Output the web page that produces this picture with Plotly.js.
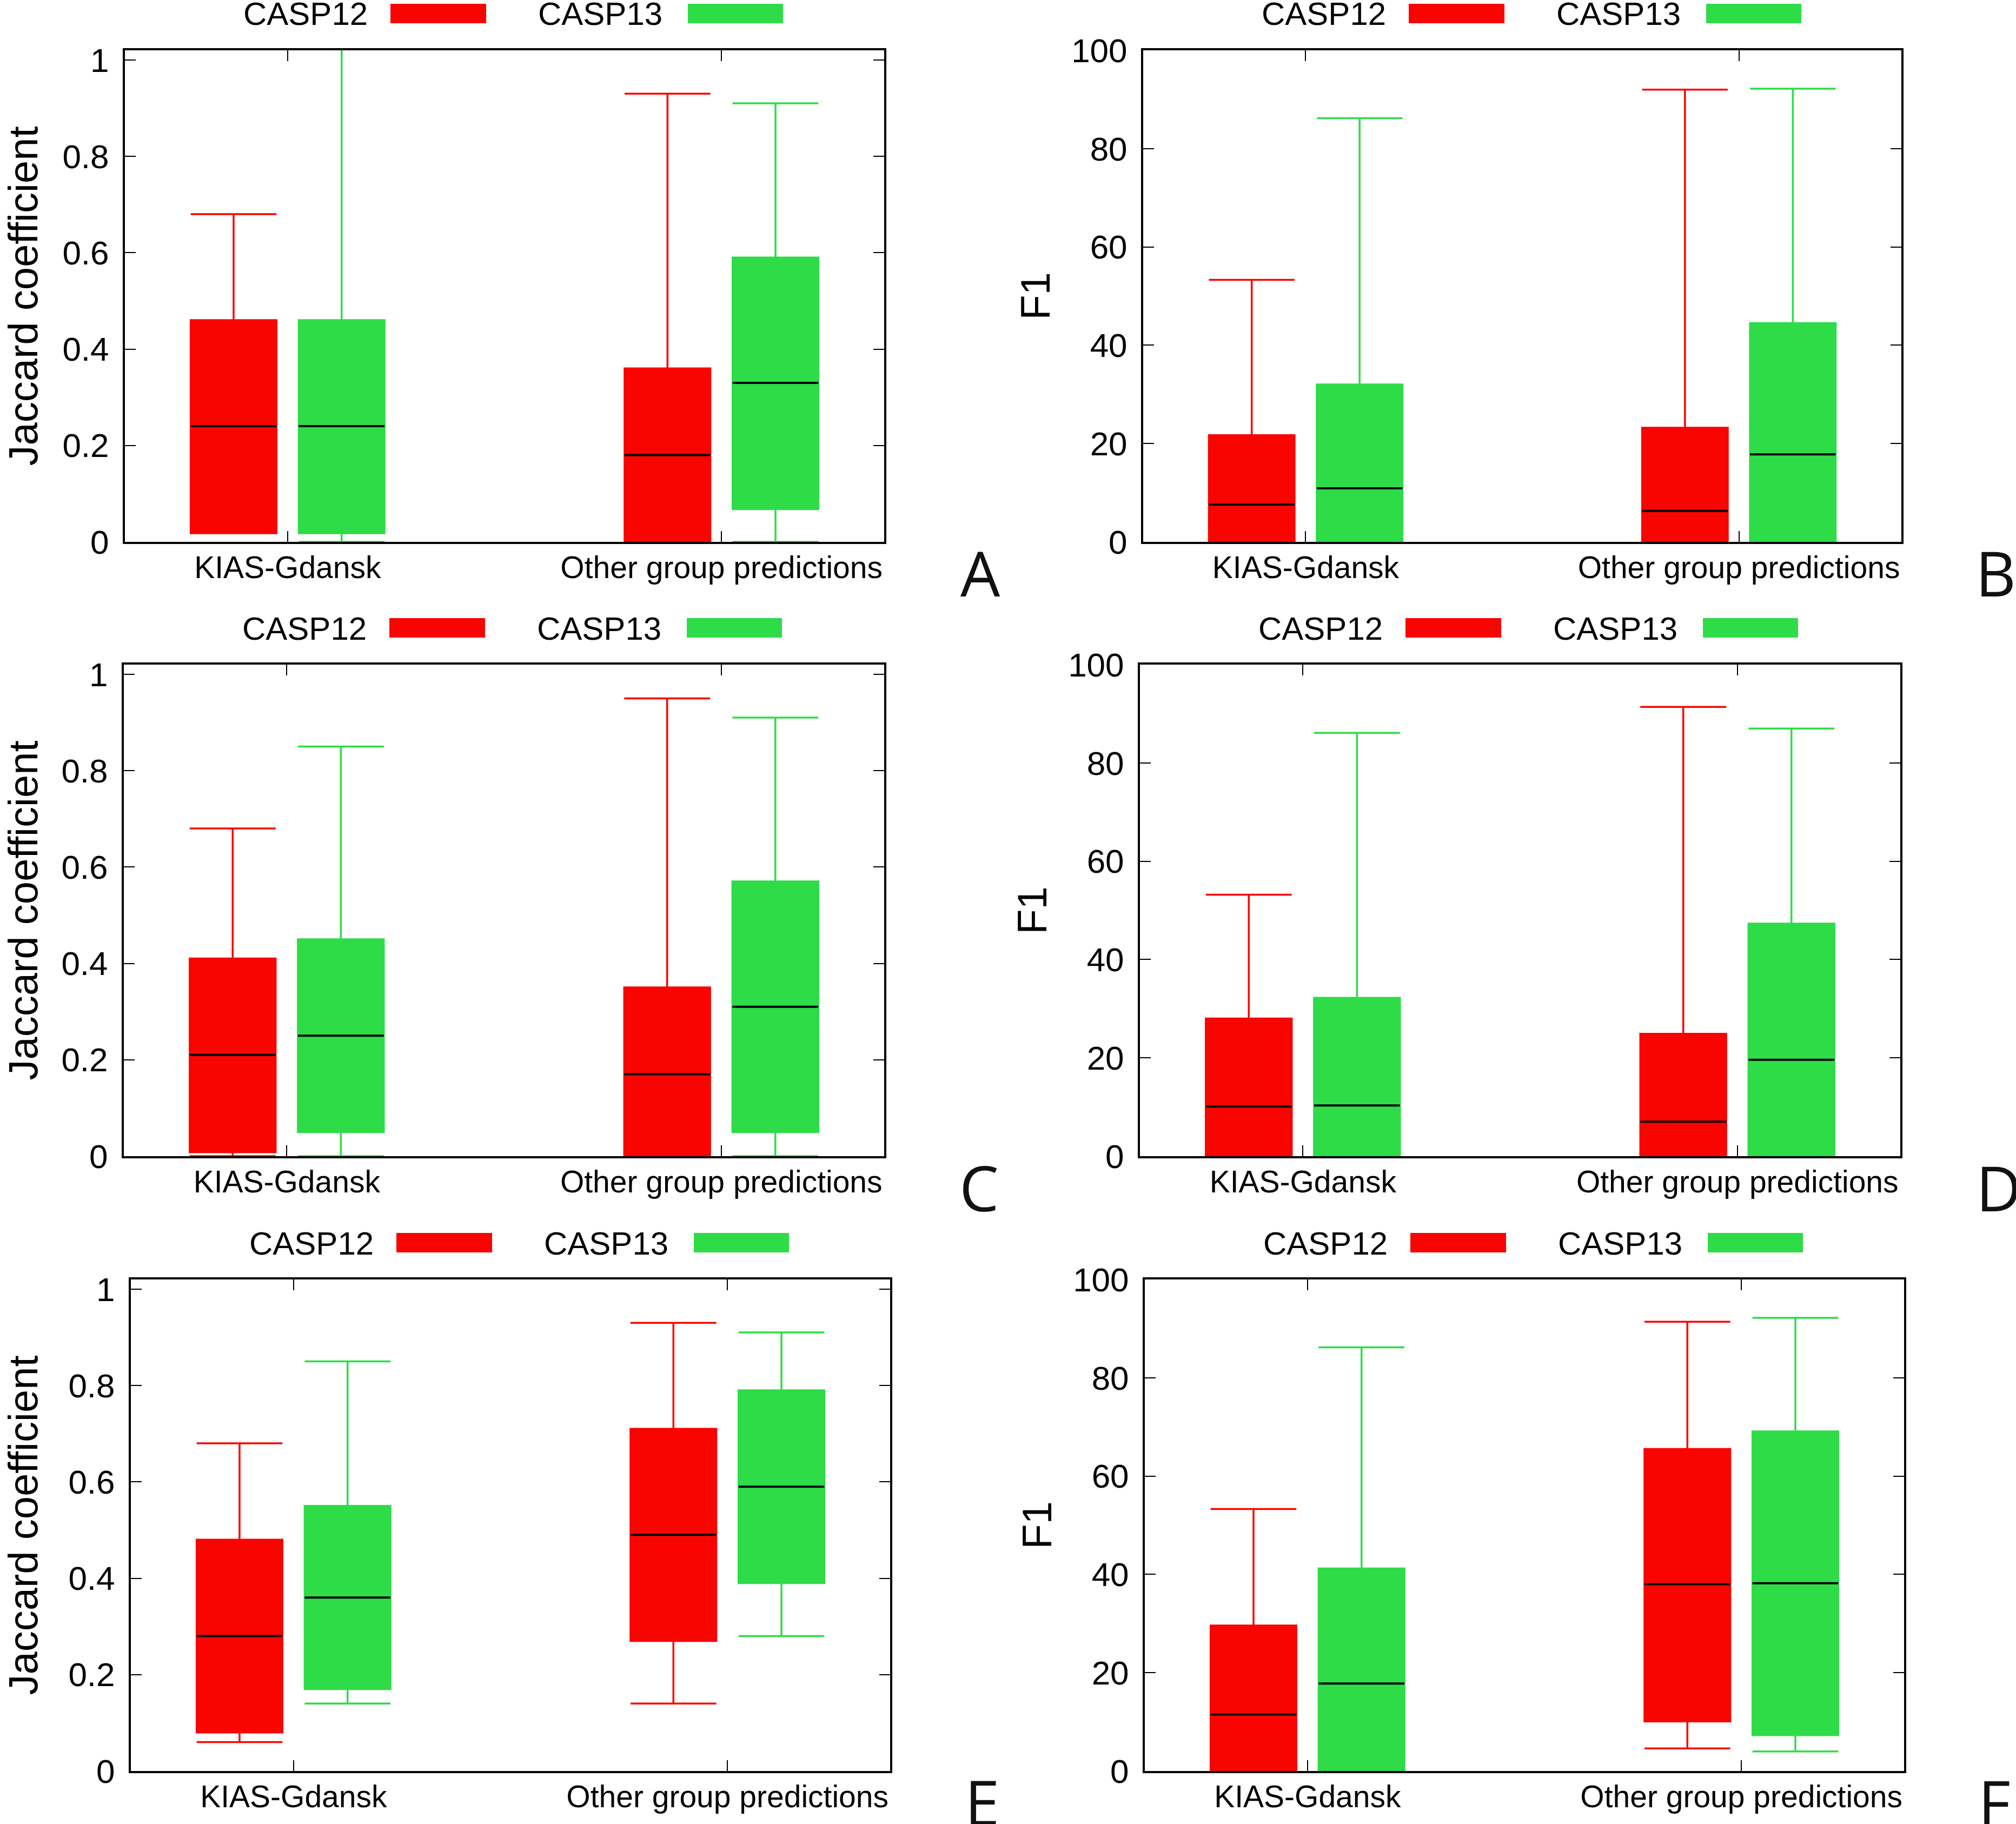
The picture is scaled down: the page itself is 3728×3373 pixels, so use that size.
<!DOCTYPE html>
<html>
<head>
<meta charset="utf-8">
<script src="https://cdn.plot.ly/plotly-3.0.1.min.js"></script>
<style>
  html, body { margin: 0; padding: 0; background: #ffffff; }
  #chart { width: 3728px; height: 3373px; }
</style>
</head>
<body>
<div id="chart"></div>
<script>
// ---------------- DATA ----------------
const categories = ['KIAS-Gdansk', 'Other group predictions'];
const seriesNames = ['CASP12', 'CASP13'];
const panelLetters = ['A', 'B', 'C', 'D', 'E', 'F'];
const yTitles = ['Jaccard coefficient', 'F1', 'Jaccard coefficient', 'F1', 'Jaccard coefficient', 'F1'];

const jaccardTickVals = [0, 0.2, 0.4, 0.6, 0.8, 1];
const jaccardTickText = ['0', '0.2', '0.4', '0.6', '0.8', '1'];
const f1TickVals = [0, 20, 40, 60, 80, 100];
const f1TickText = ['0', '20', '40', '60', '80', '100'];

// each row: one category; values [lower whisker, Q1, median, Q3, upper whisker]
const A_CASP12 = [[0.018, 0.018, 0.24, 0.46, 0.68], [0, 0, 0.18, 0.36, 0.93]];
const A_CASP13 = [[0, 0.018, 0.24, 0.46, 1.03], [0, 0.068, 0.33, 0.59, 0.91]];
const B_CASP12 = [[0, 0, 7.6, 21.7, 53.3], [0, 0, 6.3, 23.2, 92.0]];
const B_CASP13 = [[0, 0, 10.9, 32.0, 86.2], [0, 0, 17.8, 44.5, 92.2]];
const C_CASP12 = [[0, 0.008, 0.21, 0.41, 0.68], [0, 0, 0.17, 0.35, 0.95]];
const C_CASP13 = [[0, 0.05, 0.25, 0.45, 0.85], [0, 0.05, 0.31, 0.57, 0.91]];
const D_CASP12 = [[0, 0, 10.1, 28.0, 53.2], [0, 0, 7.0, 24.9, 91.4]];
const D_CASP13 = [[0, 0, 10.3, 32.2, 86.1], [0, 0, 19.6, 47.3, 87.0]];
const E_CASP12 = [[0.06, 0.08, 0.28, 0.48, 0.68], [0.14, 0.27, 0.49, 0.71, 0.93]];
const E_CASP13 = [[0.14, 0.17, 0.36, 0.55, 0.85], [0.28, 0.39, 0.59, 0.79, 0.91]];
const F_CASP12 = [[0, 0, 11.5, 29.6, 53.3], [4.6, 10.1, 38.0, 65.5, 91.4]];
const F_CASP13 = [[0, 0, 17.8, 41.2, 86.2], [4.0, 7.3, 38.2, 69.1, 92.2]];

const panelData = [
  [A_CASP12, A_CASP13], [B_CASP12, B_CASP13],
  [C_CASP12, C_CASP13], [D_CASP12, D_CASP13],
  [E_CASP12, E_CASP13], [F_CASP12, F_CASP13]
];

// ---------------- STYLE / LAYOUT ----------------
const W = 3728, H = 3373;
const seriesColors = ['#f80500', '#2edc48'];
const FONT = 'Liberation Sans, Arial, Helvetica, sans-serif';
const LETTER_FONT = 'Open Sans, Noto Sans, sans-serif';

// plot-area rectangles in pixels [left, top, right, bottom]
const frames = [
  [231, 93, 1635, 1002], [2114, 93, 3516, 1002],
  [229, 1229, 1635, 2138], [2108, 1229, 3514, 2138],
  [242, 2366, 1646, 3275], [2117, 2366, 3521, 3275]
];
// panel letter anchor (left, vertical centre) in pixels
const letterPos = [[1774, 1058], [3651, 1058], [1772, 2195], [3652, 2195], [1782, 3331], [3656, 3331]];

const px = v => v / W;
const py = v => 1 - v / H;

const data = [];
const layout = {
  width: W, height: H,
  margin: {l: 0, r: 0, t: 0, b: 0},
  paper_bgcolor: '#ffffff',
  plot_bgcolor: '#ffffff',
  font: {family: FONT, size: 60, color: '#000000'},
  showlegend: false,
  boxmode: 'group',
  boxgap: 0.502,
  boxgroupgap: 0.206,
  annotations: [],
  shapes: []
};

panelData.forEach((pair, p) => {
  const n = p === 0 ? '' : String(p + 1);
  const xa = 'x' + n, ya = 'y' + n;
  const isJ = p % 2 === 0;
  pair.forEach((rows, s) => {
    const common = {
      type: 'box',
      x: categories,
      xaxis: xa, yaxis: ya,
      offsetgroup: seriesNames[s],
      alignmentgroup: 'g' + p,
      boxpoints: false,
      hoverinfo: 'skip',
      name: seriesNames[s],
      showlegend: false
    };
    data.push(Object.assign({}, common, {
      lowerfence: rows.map(r => r[0]),
      q1: rows.map(r => r[1]),
      median: rows.map(r => r[2]),
      q3: rows.map(r => r[3]),
      upperfence: rows.map(r => r[4]),
      fillcolor: seriesColors[s],
      line: {color: seriesColors[s], width: 3.5},
      whiskerwidth: 1
    }));
    // black median bar
    data.push(Object.assign({}, common, {
      lowerfence: rows.map(r => r[2]),
      q1: rows.map(r => r[2]),
      median: rows.map(r => r[2]),
      q3: rows.map(r => r[2]),
      upperfence: rows.map(r => r[2]),
      fillcolor: 'rgba(0,0,0,0)',
      line: {color: '#000000', width: 4},
      whiskerwidth: 0
    }));
  });

  const f = frames[p];
  layout['xaxis' + n] = {
    domain: [px(f[0]), px(f[2])],
    anchor: ya,
    type: 'category',
    range: [-0.375, 1.375],
    showline: true, linecolor: '#000000', linewidth: 4, mirror: 'ticks',
    ticks: 'inside', ticklen: 20, tickwidth: 2, tickcolor: '#000000',
    showgrid: false, zeroline: false,
    tickfont: {family: FONT, size: 57, color: '#000000'},
    ticklabelstandoff: -5,
    fixedrange: true
  };
  layout['yaxis' + n] = {
    domain: [py(f[3]), py(f[1])],
    anchor: xa,
    range: isJ ? [0, 1.02] : [0, 100],
    tickmode: 'array',
    tickvals: isJ ? jaccardTickVals : f1TickVals,
    ticktext: isJ ? jaccardTickText : f1TickText,
    showline: true, linecolor: '#000000', linewidth: 4, mirror: 'ticks',
    ticks: 'inside', ticklen: 20, tickwidth: 2, tickcolor: '#000000',
    showgrid: false, zeroline: false,
    tickfont: {family: FONT, size: 62, color: '#000000'},
    ticklabelstandoff: 13,
    title: {text: yTitles[p], font: {family: FONT, size: 76, color: '#000000'}, standoff: isJ ? 74 : 16},
    fixedrange: true
  };

  // legend: text followed by colour sample, above each panel
  const L = f[0], T = f[1];
  const textOffsets = [217, 762];
  const rectOffsets = [[491, 668], [1041, 1217]];
  seriesNames.forEach((nm, s) => {
    layout.annotations.push({
      xref: 'paper', yref: 'paper',
      x: px(L + textOffsets[s]), y: py(T - 67),
      xanchor: 'left', yanchor: 'middle',
      text: nm, showarrow: false,
      font: {family: FONT, size: 60, color: '#000000'}
    });
    layout.shapes.push({
      type: 'rect', xref: 'paper', yref: 'paper',
      x0: px(L + rectOffsets[s][0]), x1: px(L + rectOffsets[s][1]),
      y0: py(T - 50), y1: py(T - 86),
      fillcolor: seriesColors[s], line: {width: 0}
    });
  });

  // panel letter
  layout.annotations.push({
    xref: 'paper', yref: 'paper',
    x: px(letterPos[p][0]), y: py(letterPos[p][1]),
    xanchor: 'left', yanchor: 'middle',
    text: panelLetters[p], showarrow: false,
    font: {family: LETTER_FONT, size: 116, color: '#111111'}
  });
});

Plotly.newPlot('chart', data, layout, {displayModeBar: false, staticPlot: true});
</script>
</body>
</html>
